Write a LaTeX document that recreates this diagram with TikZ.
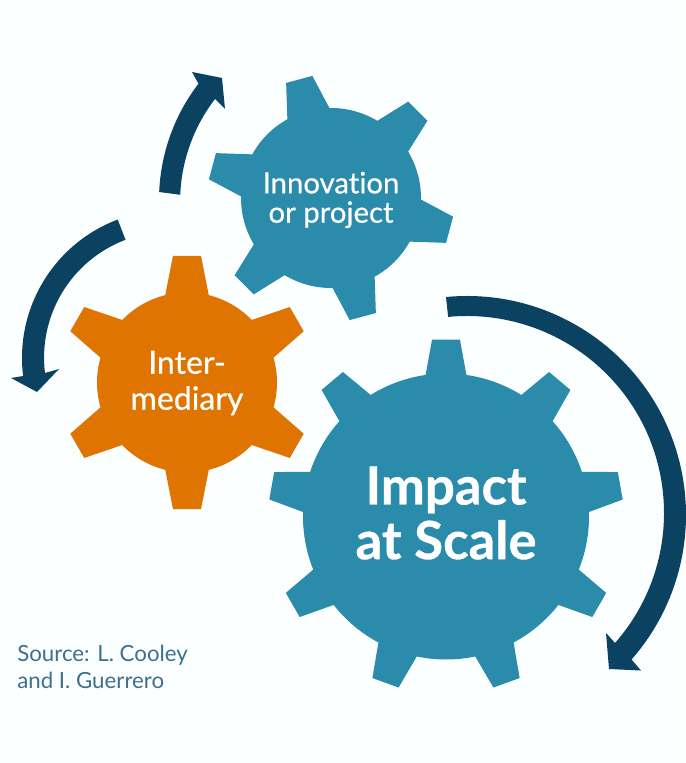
\documentclass[tikz,border=0pt]{standalone}
\usepackage{fontspec}
\setmainfont[Ligatures=NoCommon]{Lato}
\definecolor{bgc}{HTML}{FBFFFF}
\definecolor{tealc}{HTML}{2A8BAB}
\definecolor{orangec}{HTML}{E07400}
\definecolor{navyc}{HTML}{0C4261}
\definecolor{srcc}{HTML}{3F6F8E}
% #1 colour, #2 centre x, #3 centre y (image px), #4 first tooth angle, #5 tooth count,
% #6 body radius, #7 tip radius, #8 base half-angle, #9 tip half-angle
\newcommand{\gearshape}[9]{%
  \pgfmathsetmacro{\gstep}{360/#5}%
  \begin{scope}[shift={(#2,763-#3)}]
    \pgfmathsetmacro{\gfirst}{#4-#8}%
    \path[fill=#1] (\gfirst:#6)
    \foreach \k in {1,...,#5}{
      \pgfextra{%
        \pgfmathsetmacro{\ga}{#4+(\k-1)*\gstep}%
        \pgfmathsetmacro{\gtl}{\ga-#9}%
        \pgfmathsetmacro{\gtr}{\ga+#9}%
        \pgfmathsetmacro{\gbr}{\ga+#8}%
        \pgfmathsetmacro{\gbn}{\ga+\gstep-#8}%
      }
      -- (\gtl:#7) -- (\gtr:#7) -- (\gbr:#6)
      arc[start angle=\gbr,end angle=\gbn,radius=#6]
    } -- cycle;
  \end{scope}}
\begin{document}
\begin{tikzpicture}[x=0.75pt,y=0.75pt,
  gearlabel/.style={text=white,align=center,inner sep=0pt},
  arrowband/.style={fill=navyc}]
\useasboundingbox[fill=bgc] (0,0) rectangle (685,763);

\gearshape{tealc}{331}{198}{105}{6}{90}{123.5}{14}{6.3}
\gearshape{orangec}{187}{382.5}{90}{6}{90}{127.5}{14}{6.3}
\gearshape{tealc}{446}{516.5}{90}{9}{143}{177.5}{8.2}{4.5}

% large arrow
\begin{scope}[shift={(467,248)}]
  \path[arrowband] (95.5:219) arc[start angle=95.5,end angle=-41.3,radius=219]
    -- +(9.5,-11) -- (142,-154) -- (139,-118) -- (148,-128)
    arc[start angle=-41.3,end angle=95.5,radius=197] -- cycle;
\end{scope}
% lower left arrow
\begin{scope}[shift={(170,405)}]
  \path[arrowband] (110.7:148) arc[start angle=110.7,end angle=187,radius=148]
    -- (-159,-20) -- (-133,-34) -- (-111,-11) -- (-125,-15)
    arc[start angle=187,end angle=110.7,radius=126] -- cycle;
\end{scope}
% upper arrow
\begin{scope}[shift={(350,563)}]
  \path[arrowband] (177.6:191) arc[start angle=177.6,end angle=142.5,radius=191]
    -- (-158,128) -- (-128,122) -- (-125,91) -- (-135,101)
    arc[start angle=142.5,end angle=177.6,radius=169] -- cycle;
\end{scope}

\node[gearlabel,font=\fontsize{22}{22}\selectfont\addfontfeature{FakeBold=0.5}] (innovation) at (331,563) {Innovation\\or project};
\node[gearlabel,font=\fontsize{24}{27}\selectfont\addfontfeature{FakeBold=0.5}] (intermediary) at (187,380) {Inter-\\mediary};
\node[gearlabel,font=\fontsize{39.5}{41}\bfseries\selectfont\addfontfeature{FakeBold=0.6}] (impact) at (446,250) {Impact\\at Scale};
\node[text=srcc,align=left,inner sep=0pt,anchor=west,font=\fontsize{16.7}{20.25}\selectfont] (source) at (17,96) {Source: L. Cooley\\and I. Guerrero};
\end{tikzpicture}
\end{document}
